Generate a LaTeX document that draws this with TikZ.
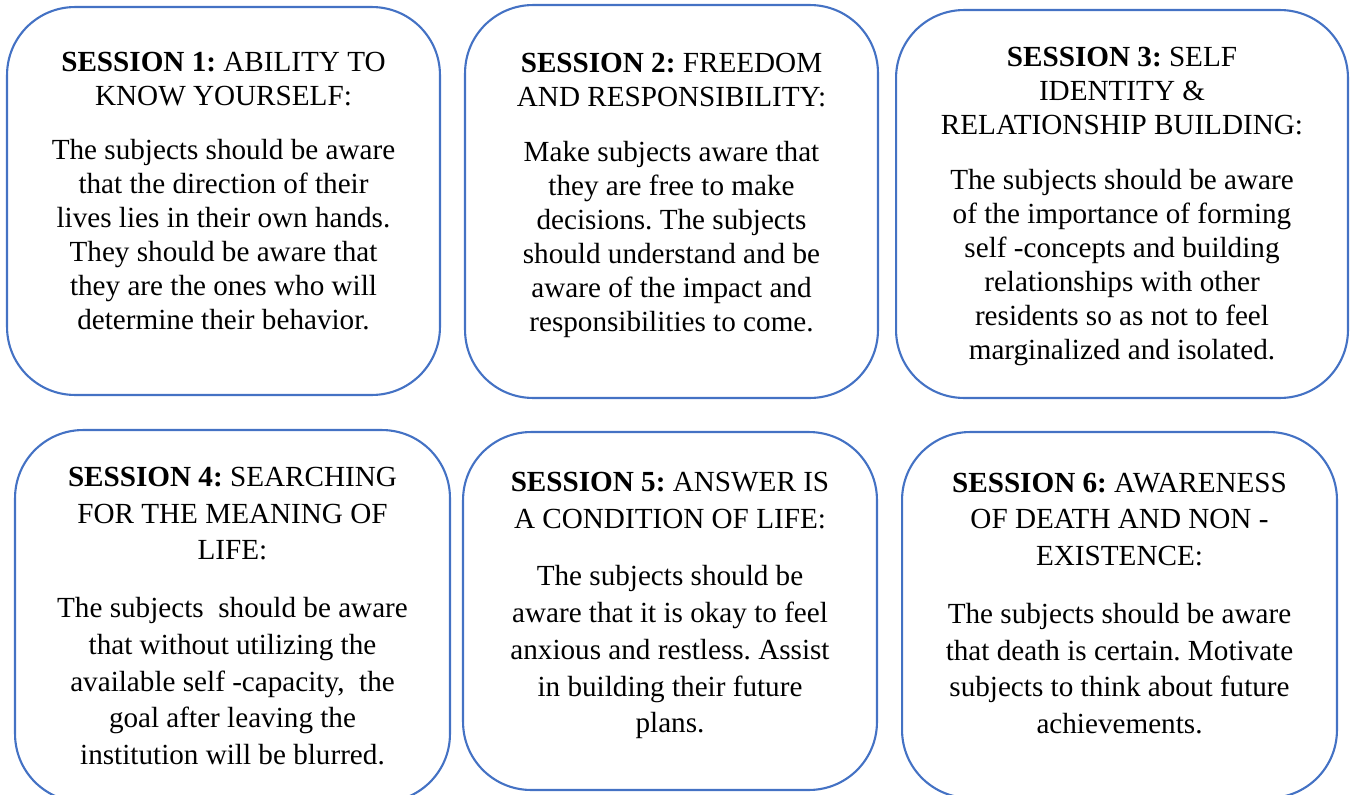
\documentclass[tikz,border=0pt]{standalone}
\usepackage{fontspec}
\setmainfont{Liberation Serif}
\frenchspacing
\definecolor{boxblue}{RGB}{68,114,196}

\begin{document}
\begin{tikzpicture}[
  x=0.02cm, y=-0.02cm,
  session/.style={rectangle, draw=boxblue, line width=1.2pt,
    rounded corners=1.36cm, inner sep=0pt},
  toptext/.style={align=center, inner sep=0pt,
    font=\fontsize{16.6}{19.35}\selectfont},
  bottomtext/.style={align=center, inner sep=0pt,
    font=\fontsize{16.6}{20.9}\selectfont},
]
\useasboundingbox (0,0) rectangle (1351,794);

% Frames, top row
\node[session, minimum width=8.66cm, minimum height=7.76cm] (s1) at (223.5,201) {};
\node[session, minimum width=8.26cm, minimum height=7.86cm] (s2) at (671.5,201.5) {};
\node[session, minimum width=9.04cm, minimum height=7.76cm] (s3) at (1122,204) {};

% Frames, bottom row
\node[session, minimum width=8.7cm, minimum height=7.44cm] (s4) at (232.5,616) {};
\node[session, minimum width=8.28cm, minimum height=7.16cm] (s5) at (670,611) {};
\node[session, minimum width=8.7cm, minimum height=7.32cm] (s6) at (1119.5,615) {};

% Session texts
\node[toptext] (t1) at ([yshift=0.2cm]s1.center)
  {\textbf{SESSION 1:} ABILITY TO\\ KNOW YOURSELF:\\[11pt]
   The subjects should be aware\\ that the direction of their\\
   lives lies in their own hands.\\ They should be aware that\\
   they are the ones who will\\ determine their behavior.};
\node[toptext] (t2) at ([yshift=0.12cm]s2.center)
  {\textbf{SESSION 2:} FREEDOM\\ AND RESPONSIBILITY:\\[12pt]
   Make subjects aware that\\ they are free to make\\
   decisions. The subjects\\ should understand and be\\
   aware of the impact and\\ responsibilities to come.};
\node[toptext] (t3) at ([yshift=-0.05cm]s3.center)
  {\textbf{SESSION 3:} SELF\\ IDENTITY \&\\ RELATIONSHIP BUILDING:\\[12pt]
   The subjects should be aware\\ of the importance of forming\\
   self -concepts and building\\ relationships with other\\
   residents so as not to feel\\ marginalized and isolated.};
\node[bottomtext] (t4) at (s4.center)
  {\textbf{SESSION 4:} SEARCHING\\ FOR THE MEANING OF\\ LIFE:\\[12pt]
   The subjects\ \ should be aware\\ that without utilizing the\\
   available self -capacity,\ \ the\\ goal after leaving the\\
   institution will be blurred.};
\node[bottomtext] (t5) at ([yshift=0.11cm]s5.center)
  {\textbf{SESSION 5:} ANSWER IS\\ A CONDITION OF LIFE:\\[12pt]
   The subjects should be\\ aware that it is okay to feel\\
   anxious and restless. Assist\\ in building their future\\ plans.};
\node[bottomtext] (t6) at ([yshift=0.23cm]s6.center)
  {\textbf{SESSION 6:} AWARENESS\\ OF DEATH AND NON -\\ EXISTENCE:\\[12pt]
   The subjects should be aware\\ that death is certain. Motivate\\
   subjects to think about future\\ achievements.};

\end{tikzpicture}
\end{document}
